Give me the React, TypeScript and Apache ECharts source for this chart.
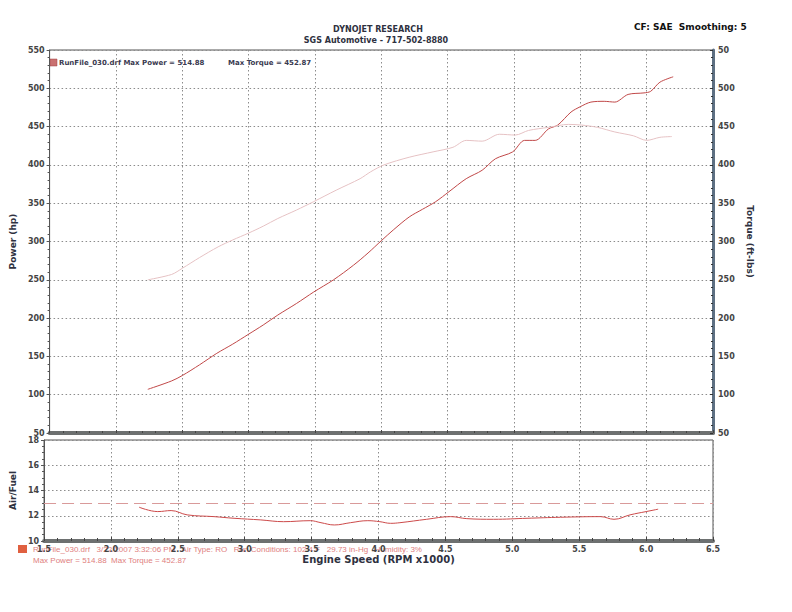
import React, { useEffect, useRef } from "react";
import * as echarts from "echarts";

// ---- data ----
const rpmTicks = [1.5, 2.0, 2.5, 3.0, 3.5, 4.0, 4.5, 5.0, 5.5, 6.0, 6.5];

const powerRpm = [2.24, 2.42, 2.5, 2.63, 2.76, 2.88, 3.0, 3.11, 3.22, 3.36, 3.49, 3.64, 3.79, 3.9, 4.0, 4.09, 4.21, 4.31, 4.41, 4.51, 4.64, 4.76, 4.86, 4.99, 5.08, 5.16, 5.26, 5.33, 5.43, 5.5, 5.58, 5.68, 5.76, 5.86, 5.98, 6.03, 6.1, 6.2];
const powerHp = [107, 118, 125, 139, 154, 166, 179, 191, 204, 219, 234, 250, 269, 285, 301, 315, 332, 342, 352, 365, 382, 393, 408, 417, 432, 432, 447, 452, 469, 476, 482, 483, 482, 492, 494, 496, 508, 515];

const torqueRpm = [2.24, 2.42, 2.5, 2.63, 2.77, 2.88, 3.0, 3.11, 3.22, 3.36, 3.49, 3.66, 3.84, 3.92, 4.02, 4.21, 4.39, 4.54, 4.64, 4.76, 4.89, 5.01, 5.11, 5.26, 5.41, 5.51, 5.63, 5.76, 5.9, 6.0, 6.1, 6.19];
const torqueLbft = [250, 257, 265, 279, 293, 302, 311, 320, 330, 341, 352, 367, 382, 391, 400, 410, 417, 423, 432, 431, 440, 439, 445, 449, 452.9, 452, 449, 443, 438, 432, 436, 437];

const afrRpm = [2.21, 2.35, 2.45, 2.57, 2.77, 2.92, 3.12, 3.29, 3.49, 3.57, 3.67, 3.79, 3.92, 4.01, 4.09, 4.16, 4.36, 4.54, 4.66, 4.86, 5.11, 5.36, 5.66, 5.76, 5.88, 6.0, 6.09];
const afrValues = [12.68, 12.33, 12.41, 12.07, 11.93, 11.8, 11.67, 11.53, 11.61, 11.45, 11.27, 11.45, 11.61, 11.53, 11.4, 11.45, 11.72, 11.93, 11.77, 11.72, 11.8, 11.88, 11.93, 11.72, 12.07, 12.33, 12.52];
const afrTarget = 13;

const titleLines = ["DYNOJET RESEARCH", "SGS Automotive - 717-502-8880"];
const cornerText = "CF: SAE  Smoothing: 5";
const legendRun = "RunFile_030.drf Max Power = 514.88";
const legendTorque = "Max Torque = 452.87";
const footerLine1 = "RunFile_030.drf   3/22/2007 3:32:06 PM   Air Type: RO   Run Conditions: 102.4 F   29.73 in-Hg   Humidity: 3%";
const footerLine2 = "Max Power = 514.88  Max Torque = 452.87";

const FONT = "DejaVu Sans";
const TXT = "#2e3140";

export default function App() {
  const ref = useRef<HTMLDivElement>(null);
  useEffect(() => {
    document.body.style.margin = "0";
    const chart = echarts.init(ref.current!, null, { renderer: "svg" });
    const pair = (xs: number[], ys: number[]) => xs.map((x, i) => [x, ys[i]]);
    const gridLine = { show: true, lineStyle: { type: [1.5, 2.5], color: "#8c8c8c", width: 1 } };
    const axisLbl = { fontFamily: FONT, fontSize: 8, fontWeight: "bold", color: "#444" };
    chart.setOption({
      animation: false,
      backgroundColor: "#ffffff",
      textStyle: { fontFamily: FONT },
      grid: [
        { left: 43, top: 50, width: 670, height: 383, show: true, borderColor: "#555", borderWidth: 1 },
        { left: 43, top: 440, width: 670, height: 101, show: true, borderColor: "#555", borderWidth: 1 },
      ],
      xAxis: [
        {
          type: "value", gridIndex: 0, min: rpmTicks[0], max: rpmTicks[rpmTicks.length - 1], interval: 0.5,
          axisLabel: { show: false },
          axisLine: { show: true, lineStyle: { color: "#6d7070", width: 4 } },
          axisTick: { show: true, inside: true, length: 3, lineStyle: { color: "#444" } },
          minorTick: { show: true, splitNumber: 5, length: 2, lineStyle: { color: "#444" } },
          splitLine: gridLine,
        },
        {
          type: "value", gridIndex: 1, min: rpmTicks[0], max: rpmTicks[rpmTicks.length - 1], interval: 0.5,
          axisLabel: { ...axisLbl, margin: 4, formatter: (v: number) => v.toFixed(1) },
          axisLine: { show: true, lineStyle: { color: "#6d7070", width: 4 } },
          axisTick: { show: true, inside: true, length: 4, lineStyle: { color: "#444" } },
          minorTick: { show: true, splitNumber: 5, length: 3, lineStyle: { color: "#444" } },
          splitLine: gridLine,
          name: "Engine Speed (RPM x1000)", nameLocation: "middle", nameGap: 13,
          nameTextStyle: { fontFamily: FONT, fontSize: 10, fontWeight: "bold", color: TXT },
        },
      ],
      yAxis: [
        {
          type: "value", gridIndex: 0, position: "left", min: 50, max: 550, interval: 50,
          axisLabel: { ...axisLbl, margin: 5 },
          axisLine: { show: true, lineStyle: { color: "#555", width: 1 } },
          axisTick: { show: true, length: 3, lineStyle: { color: "#555" } },
          minorTick: { show: true, splitNumber: 5, length: 2, lineStyle: { color: "#555" } },
          splitLine: gridLine,
          name: "Power (hp)", nameLocation: "middle", nameRotate: 90, nameGap: 19,
          nameTextStyle: { fontFamily: FONT, fontSize: 9, fontWeight: "bold", color: TXT },
        },
        {
          type: "value", gridIndex: 0, position: "right", min: 50, max: 550, interval: 50,
          axisLabel: { ...axisLbl, margin: 5, formatter: (v: number) => (v === 550 ? "50" : String(v)) },
          axisLine: { show: true, lineStyle: { color: "#5d6f82", width: 3 } },
          axisTick: { show: true, inside: true, length: 3, lineStyle: { color: "#333" } },
          minorTick: { show: true, splitNumber: 5, length: 2, lineStyle: { color: "#333" } },
          splitLine: { show: false },
          name: "Torque (ft-lbs)", nameLocation: "middle", nameRotate: -90, nameGap: 17,
          nameTextStyle: { fontFamily: FONT, fontSize: 9, fontWeight: "bold", color: TXT },
        },
        {
          type: "value", gridIndex: 1, position: "left", min: 10, max: 18, interval: 2,
          axisLabel: { ...axisLbl, margin: 5 },
          axisLine: { show: true, lineStyle: { color: "#555", width: 1 } },
          axisTick: { show: true, length: 3, lineStyle: { color: "#555" } },
          minorTick: { show: true, splitNumber: 4, length: 2, lineStyle: { color: "#555" } },
          splitLine: gridLine,
          name: "Air/Fuel", nameLocation: "middle", nameRotate: 90, nameGap: 19,
          nameTextStyle: { fontFamily: FONT, fontSize: 9, fontWeight: "bold", color: TXT },
        },
      ],
      series: [
        {
          name: "Power", type: "line", xAxisIndex: 0, yAxisIndex: 0, data: pair(powerRpm, powerHp),
          showSymbol: false, smooth: 0.3, lineStyle: { color: "#c04848", width: 1 },
        },
        {
          name: "Torque", type: "line", xAxisIndex: 0, yAxisIndex: 1, data: pair(torqueRpm, torqueLbft),
          showSymbol: false, smooth: 0.3, lineStyle: { color: "#e6c2c4", width: 1 },
        },
        {
          name: "Air/Fuel", type: "line", xAxisIndex: 1, yAxisIndex: 2, data: pair(afrRpm, afrValues),
          showSymbol: false, smooth: 0.4, lineStyle: { color: "#cc4a4a", width: 1 },
          markLine: {
            silent: true, symbol: "none", label: { show: false },
            lineStyle: { color: "#d99a9a", type: [12, 6], width: 1 },
            data: [{ yAxis: afrTarget }],
          },
        },
      ],
      graphic: [
        { type: "text", x: 378, y: 25, style: { text: titleLines[0], align: "center", fontFamily: FONT, fontSize: 8, fontWeight: "bold", fill: TXT } },
        { type: "text", x: 376, y: 36, style: { text: titleLines[1], align: "center", fontFamily: FONT, fontSize: 8, fontWeight: "bold", fill: TXT } },
        { type: "text", left: 634, top: 22, style: { text: cornerText, fontFamily: FONT, fontSize: 9, fontWeight: "bold", fill: "#111" } },
        { type: "rect", shape: { x: 50, y: 59, width: 7, height: 7 }, style: { fill: "#c97070", stroke: "#a04040", lineWidth: 0.5 } },
        { type: "text", left: 59, top: 59, style: { text: legendRun, fontFamily: FONT, fontSize: 7, fontWeight: "bold", fill: "#3a3a50" } },
        { type: "text", left: 228, top: 59, style: { text: legendTorque, fontFamily: FONT, fontSize: 7, fontWeight: "bold", fill: "#3a3a50" } },
        { type: "rect", shape: { x: 18, y: 545, width: 9, height: 8 }, style: { fill: "#e06040" } },
        { type: "text", left: 33, top: 545, style: { text: footerLine1, fontFamily: "Liberation Sans", fontSize: 8, fill: "#e08080" } },
        { type: "text", left: 33, top: 556, style: { text: footerLine2, fontFamily: "Liberation Sans", fontSize: 8, fill: "#e08080" } },
      ],
    });
    return () => chart.dispose();
  }, []);
  return <div ref={ref} style={{ width: 792, height: 612 }} />;
}
